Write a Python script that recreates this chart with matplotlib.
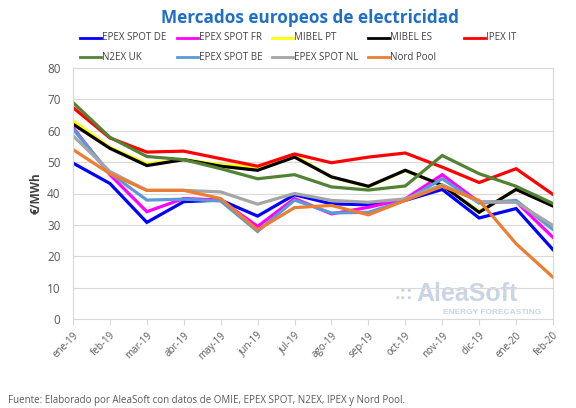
import numpy as np
import matplotlib.pyplot as plt
from matplotlib.lines import Line2D

plt.rcParams['font.family'] = ['Open Sans', 'DejaVu Sans']

months = ['ene-19', 'feb-19', 'mar-19', 'abr-19', 'may-19', 'jun-19', 'jul-19',
          'ago-19', 'sep-19', 'oct-19', 'nov-19', 'dic-19', 'ene-20', 'feb-20']

epex_de = [49.7, 43.2, 30.8, 37.4, 37.9, 32.8, 39.6, 36.7, 36.4, 37.8, 41.3, 32.2, 35.2, 22.1]
epex_fr = [61.0, 46.0, 34.2, 38.4, 37.9, 29.5, 38.4, 33.5, 35.6, 38.3, 46.0, 37.2, 37.4, 26.0]
mibel_pt = [63.2, 54.7, 49.5, 50.8, 49.2, 48.4, 52.1, 45.2, 42.2, 47.3, 42.6, 34.3, 41.3, 36.2]
mibel_es = [62.1, 54.4, 48.9, 50.8, 48.7, 47.4, 51.6, 45.3, 42.3, 47.4, 42.6, 34.0, 41.3, 36.0]
ipex_it = [67.4, 57.7, 53.2, 53.5, 51.1, 48.7, 52.6, 49.8, 51.6, 52.9, 48.4, 43.5, 47.9, 39.7]
n2ex_uk = [69.0, 57.9, 51.8, 50.8, 47.9, 44.7, 46.0, 42.1, 41.1, 42.4, 52.1, 46.3, 42.3, 36.8]
epex_be = [60.5, 46.5, 37.9, 38.2, 37.6, 27.9, 37.9, 33.8, 34.0, 37.8, 44.7, 36.9, 37.8, 28.5]
epex_nl = [58.4, 47.0, 41.0, 41.0, 40.5, 36.6, 40.0, 37.8, 37.2, 38.3, 42.8, 37.4, 37.2, 29.8]
nord_pool = [54.0, 46.3, 41.0, 41.0, 38.4, 28.4, 35.5, 36.2, 33.2, 37.8, 42.3, 37.8, 24.0, 13.3]

names = ['EPEX SPOT DE', 'EPEX SPOT FR', 'MIBEL PT', 'MIBEL ES', 'IPEX IT',
         'N2EX UK', 'EPEX SPOT BE', 'EPEX SPOT NL', 'Nord Pool']
series = [epex_de, epex_fr, mibel_pt, mibel_es, ipex_it, n2ex_uk, epex_be, epex_nl, nord_pool]
colors = ['#0000FF', '#FF00FF', '#FFFF00', '#000000', '#FF0000',
          '#548235', '#5B9BD5', '#A5A5A5', '#ED7D31']

fig = plt.figure(figsize=(5.76, 4.08), dpi=100)
ax = fig.add_axes([73/576, 1-319/408, 480/576, 251/408])

x = np.arange(len(months))
for vals, c, n in zip(series, colors, names):
    ax.plot(x, vals, color=c, lw=2.3, label=n, solid_joinstyle='miter')

ax.set_xlim(0, len(months)-1)
ax.set_ylim(0, 80)
ax.set_yticks(np.arange(0, 81, 10))
ax.set_xticks(x)
ax.set_xticklabels(months, rotation=45, ha='right', rotation_mode='anchor',
                   fontsize=7, color='#595959')
ax.tick_params(axis='x', length=4, color='#D9D9D9', pad=4)
ax.tick_params(axis='y', length=0, labelsize=8.5, labelcolor='#595959', pad=9)
ax.grid(axis='y', color='#D9D9D9', lw=0.8)
ax.set_axisbelow(True)
for s in ax.spines.values():
    s.set_color('#D9D9D9')
    s.set_linewidth(0.8)
ax.set_ylabel('€/MWh', fontsize=8.5, fontweight='bold', color='#404040', labelpad=3)

# watermark
ax.text(0.69, 0.098, '.::', transform=ax.transAxes, ha='center', va='center',
        fontsize=14, fontweight='bold', color='#C9D5E6', family='Liberation Sans', zorder=0)
ax.text(0.82, 0.098, 'AleaSoft', transform=ax.transAxes, ha='center', va='center',
        fontsize=18, fontweight='bold', color='#C9D5E6', family='Liberation Sans', zorder=0)
ax.text(0.873, 0.026, 'ENERGY FORECASTING', transform=ax.transAxes, ha='center', va='center',
        fontsize=6, fontweight='bold', color='#C9D5E6', family='Liberation Sans', zorder=0)

fig.text(0.538, 0.956, 'Mercados europeos de electricidad', ha='center', va='center',
         fontsize=12.3, fontweight='bold', color='#1F6FC5')

# legend laid out like the original, two rows of five
col_x = [80, 177, 272, 368, 464]
row_y = [38, 57]
for i, (n, c) in enumerate(zip(names, colors)):
    r, k = divmod(i, 5)
    xs = col_x[k] / 576
    ys = 1 - row_y[r] / 408
    fig.add_artist(Line2D([xs, xs + 21/576], [ys, ys], color=c, lw=2, transform=fig.transFigure))
    fig.text(xs + 22/576, ys, n, ha='left', va='center', fontsize=7, color='#404040')

fig.text(8/576, 1-400/408, 'Fuente: Elaborado por AleaSoft con datos de OMIE, EPEX SPOT, N2EX, IPEX y Nord Pool.',
         ha='left', va='center', fontsize=7, color='#595959')

fig.savefig('out.png', dpi=100)
